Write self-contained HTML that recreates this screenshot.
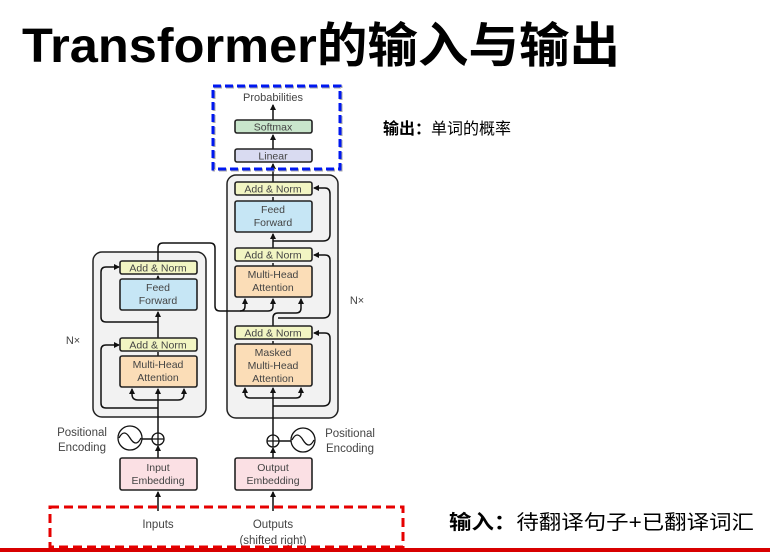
<!DOCTYPE html>
<html><head><meta charset="utf-8"><style>
html,body{margin:0;padding:0;background:#fff;}
svg{display:block}
.t{font-family:"Liberation Sans","DejaVu Sans",sans-serif;font-size:10.5px;fill:#444;text-anchor:middle}
.bx{stroke:#222;stroke-width:1.6}
.ln{stroke:#111;stroke-width:1.5;fill:none}
</style></head><body>
<svg width="770" height="552" viewBox="0 0 770 552" xmlns="http://www.w3.org/2000/svg">
<defs><marker id="a" markerWidth="6" markerHeight="6" refX="5" refY="3" orient="auto" markerUnits="userSpaceOnUse"><path d="M0,0 L6,3 L0,6 Z" fill="#111"/></marker></defs>
<text x="22" y="62" textLength="598" lengthAdjust="spacingAndGlyphs" style="font-family:'Liberation Sans','Noto Sans CJK SC',sans-serif;font-weight:bold;font-size:48px" fill="#000">Transformer的输入与输出</text>

<rect x="93" y="252" width="113" height="165" rx="9" fill="#f2f2f2" stroke="#222" stroke-width="1.5"/>
<rect x="227" y="175" width="111" height="243" rx="9" fill="#f2f2f2" stroke="#222" stroke-width="1.5"/>

<g class="ln">
<path d="M158 511 V492" marker-end="url(#a)"/>
<path d="M273 511 V492" marker-end="url(#a)"/>
<path d="M158 458 V446" marker-end="url(#a)"/>
<path d="M273 458 V448" marker-end="url(#a)"/>
<path d="M158 433 V389" marker-end="url(#a)"/>
<path d="M273 435 V388" marker-end="url(#a)"/>
<path d="M142 439 H152"/><path d="M279 441 H291"/>
<path d="M158 400 H138 Q132 400 132 394 V389" marker-end="url(#a)"/>
<path d="M158 400 H178 Q184 400 184 394 V389" marker-end="url(#a)"/>
<path d="M158 408 H106 Q101 408 101 403 V350 Q101 345 106 345 H119" marker-end="url(#a)"/>
<path d="M158 356 V352"/>
<path d="M158 338 V312" marker-end="url(#a)"/>
<path d="M158 322 H106 Q101 322 101 317 V272 Q101 267 106 267 H119" marker-end="url(#a)"/>
<path d="M158 279 V276" marker-end="url(#a)"/>
<path d="M158 261 V248 Q158 243 163 243 H210 Q215 243 215 248 V306 Q215 311 220 311 H240 Q245 311 245 306 V299" marker-end="url(#a)"/>
<path d="M240 311 H268 Q273 311 273 306 V299" marker-end="url(#a)"/>
<path d="M273 398 H250 Q245 398 245 393 V388" marker-end="url(#a)"/>
<path d="M273 398 H296 Q301 398 301 393 V388" marker-end="url(#a)"/>
<path d="M273 406 H323 Q330 406 330 399 V338 Q330 333 325 333 H314" marker-end="url(#a)"/>
<path d="M273 344 V341"/>
<path d="M273 326 V318 Q273 313 278 313 H296 Q301 313 301 308 V299" marker-end="url(#a)"/>
<path d="M278 318 H323 Q330 318 330 311 V260 Q330 255 325 255 H314" marker-end="url(#a)"/>
<path d="M273 266 V263"/>
<path d="M273 248 V234" marker-end="url(#a)"/>
<path d="M273 241 H323 Q330 241 330 234 V194 Q330 188 325 188 H314" marker-end="url(#a)"/>
<path d="M273 201 V197"/>
<path d="M273 182 V164" marker-end="url(#a)"/>
<path d="M273 149 V135" marker-end="url(#a)"/>
<path d="M273 120 V105" marker-end="url(#a)"/>
</g>

<rect class="bx" x="235" y="120" width="77" height="13" rx="2" fill="#c9e6cc"/><text class="t" x="273" y="130.5">Softmax</text>
<rect class="bx" x="235" y="149" width="77" height="13" rx="2" fill="#d9dbf1"/><text class="t" x="273" y="159.5">Linear</text>
<text class="t" x="273" y="101" style="font-size:11px">Probabilities</text>

<rect class="bx" x="235" y="182" width="77" height="13" rx="2" fill="#f2f5c3"/><text class="t" x="273" y="192.5">Add &amp; Norm</text>
<rect class="bx" x="235" y="201" width="77" height="31" rx="2" fill="#c6e6f5"/><text class="t" x="273" y="213">Feed</text><text class="t" x="273" y="226">Forward</text>
<rect class="bx" x="235" y="248" width="77" height="13" rx="2" fill="#f2f5c3"/><text class="t" x="273" y="258.5">Add &amp; Norm</text>
<rect class="bx" x="235" y="266" width="77" height="31" rx="2" fill="#fbddb7"/><text class="t" x="273" y="278">Multi-Head</text><text class="t" x="273" y="291">Attention</text>
<rect class="bx" x="235" y="326" width="77" height="13" rx="2" fill="#f2f5c3"/><text class="t" x="273" y="336.5">Add &amp; Norm</text>
<rect class="bx" x="235" y="344" width="77" height="42" rx="2" fill="#fbddb7"/><text class="t" x="273" y="356">Masked</text><text class="t" x="273" y="369">Multi-Head</text><text class="t" x="273" y="382">Attention</text>

<rect class="bx" x="120" y="261" width="77" height="13" rx="2" fill="#f2f5c3"/><text class="t" x="158" y="271.5">Add &amp; Norm</text>
<rect class="bx" x="120" y="279" width="77" height="31" rx="2" fill="#c6e6f5"/><text class="t" x="158" y="291">Feed</text><text class="t" x="158" y="304">Forward</text>
<rect class="bx" x="120" y="338" width="77" height="13" rx="2" fill="#f2f5c3"/><text class="t" x="158" y="348.5">Add &amp; Norm</text>
<rect class="bx" x="120" y="356" width="77" height="31" rx="2" fill="#fbddb7"/><text class="t" x="158" y="368">Multi-Head</text><text class="t" x="158" y="381">Attention</text>

<rect class="bx" x="120" y="458" width="77" height="32" rx="2" fill="#fbe0e4"/><text class="t" x="158" y="471">Input</text><text class="t" x="158" y="484">Embedding</text>
<rect class="bx" x="235" y="458" width="77" height="32" rx="2" fill="#fbe0e4"/><text class="t" x="273" y="471">Output</text><text class="t" x="273" y="484">Embedding</text>

<g stroke="#111" stroke-width="1.3" fill="#fff">
<circle cx="158" cy="439" r="6"/><path d="M152 439 H164 M158 433 V445"/>
<circle cx="273" cy="441" r="6"/><path d="M267 441 H279 M273 435 V447"/>
<circle cx="130" cy="438" r="12"/><path d="M119 438 Q124 428 130 438 Q136 448 141 438" fill="none"/>
<circle cx="303" cy="440" r="12"/><path d="M292 440 Q297 430 303 440 Q309 450 314 440" fill="none"/>
</g>
<text class="t" x="82" y="436" style="font-size:11.5px">Positional</text><text class="t" x="82" y="451" style="font-size:11.5px">Encoding</text>
<text class="t" x="350" y="437" style="font-size:11.5px">Positional</text><text class="t" x="350" y="452" style="font-size:11.5px">Encoding</text>
<text class="t" x="73" y="344" style="font-size:11px">N×</text>
<text class="t" x="357" y="304" style="font-size:11px">N×</text>
<text class="t" x="158" y="528" style="font-size:11.5px">Inputs</text>
<text class="t" x="273" y="528" style="font-size:11.5px">Outputs</text>
<text class="t" x="273" y="544" style="font-size:11.5px">(shifted right)</text>

<rect x="213" y="86" width="127" height="83" fill="none" stroke="#aaa" stroke-width="3" stroke-dasharray="8 4" transform="translate(1,1)"/>
<rect x="213" y="86" width="127" height="83" fill="none" stroke="#0018f0" stroke-width="3" stroke-dasharray="8 4"/>
<rect x="50" y="507" width="353" height="40" fill="none" stroke="#e60000" stroke-width="3" stroke-dasharray="9 5"/>
<rect x="0" y="548" width="770" height="4" fill="#d80000"/>

<text x="383" y="134" style="font-family:'Liberation Sans','Noto Sans CJK SC',sans-serif;font-size:16px" fill="#000"><tspan font-weight="bold">输出：</tspan>单词的概率</text>
<text x="449" y="529" textLength="305" lengthAdjust="spacingAndGlyphs" style="font-family:'Liberation Sans','Noto Sans CJK SC',sans-serif;font-size:20px" fill="#000"><tspan font-weight="bold">输入：</tspan>待翻译句子+已翻译词汇</text>
</svg>
</body></html>
